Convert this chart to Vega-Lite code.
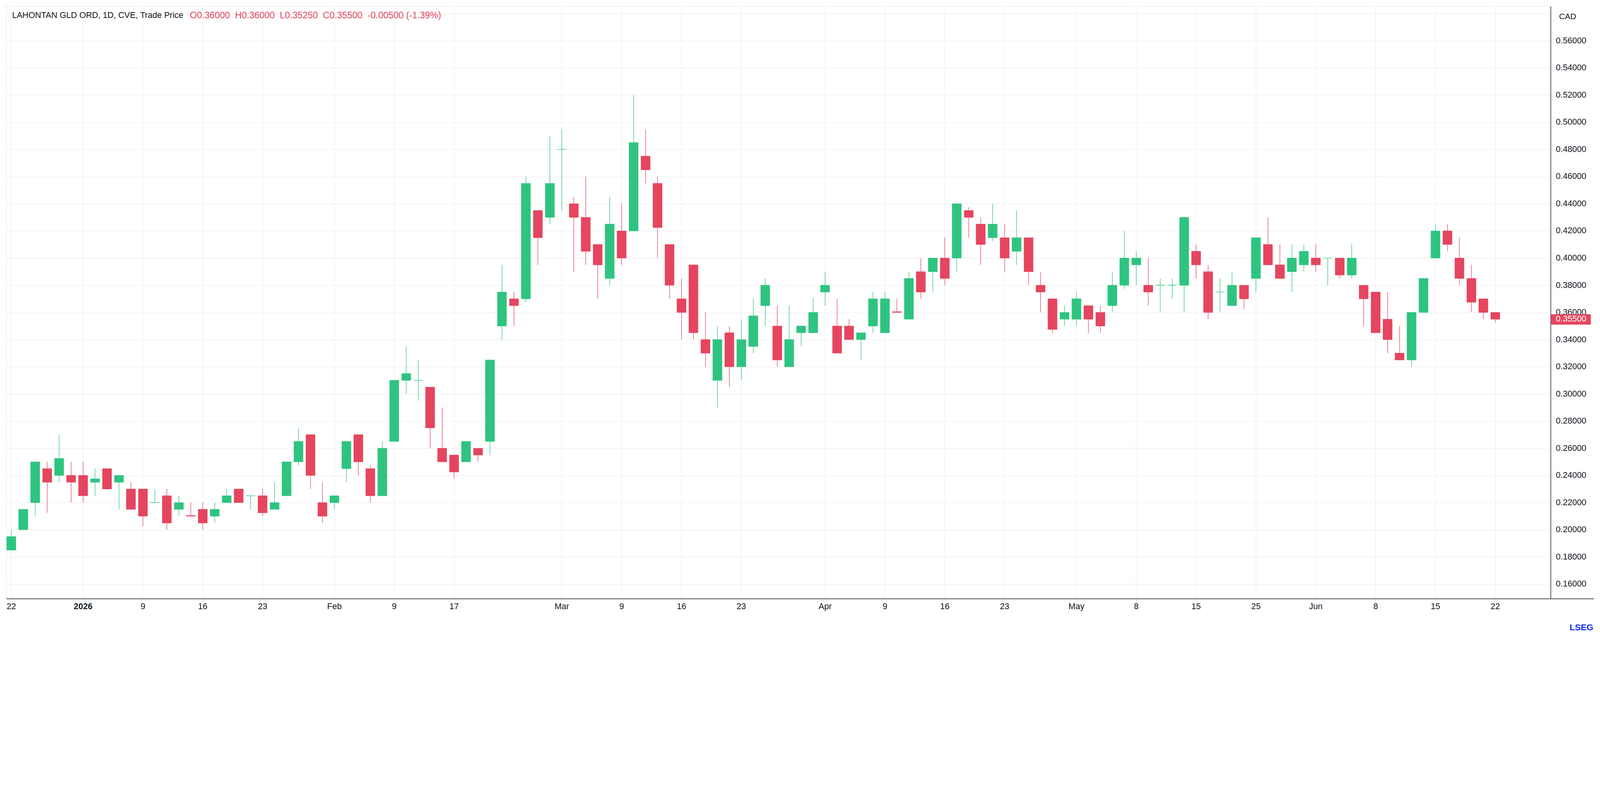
{
  "$schema": "https://vega.github.io/schema/vega-lite/v6.json",
  "width": 3953.6,
  "height": 1516,
  "autosize": {"type": "none"},
  "padding": {"left": 16, "top": 16, "right": 126.4, "bottom": 93.6},
  "background": "white",
  "data": {
    "values": [
      {"date": "2025-12-22", "open": 0.185, "high": 0.2, "low": 0.185, "close": 0.195},
      {"date": "2025-12-23", "open": 0.2, "high": 0.215, "low": 0.2, "close": 0.215},
      {"date": "2025-12-24", "open": 0.22, "high": 0.25, "low": 0.21, "close": 0.25},
      {"date": "2025-12-29", "open": 0.245, "high": 0.25, "low": 0.2125, "close": 0.235},
      {"date": "2025-12-30", "open": 0.24, "high": 0.27, "low": 0.235, "close": 0.2525},
      {"date": "2025-12-31", "open": 0.24, "high": 0.25, "low": 0.22, "close": 0.235},
      {"date": "2026-01-02", "open": 0.24, "high": 0.25, "low": 0.22, "close": 0.225},
      {"date": "2026-01-05", "open": 0.235, "high": 0.245, "low": 0.225, "close": 0.2375},
      {"date": "2026-01-06", "open": 0.245, "high": 0.245, "low": 0.23, "close": 0.23},
      {"date": "2026-01-07", "open": 0.235, "high": 0.24, "low": 0.215, "close": 0.24},
      {"date": "2026-01-08", "open": 0.23, "high": 0.235, "low": 0.215, "close": 0.215},
      {"date": "2026-01-09", "open": 0.23, "high": 0.23, "low": 0.2025, "close": 0.21},
      {"date": "2026-01-12", "open": 0.22, "high": 0.23, "low": 0.22, "close": 0.22},
      {"date": "2026-01-13", "open": 0.225, "high": 0.23, "low": 0.2, "close": 0.205},
      {"date": "2026-01-14", "open": 0.215, "high": 0.225, "low": 0.21, "close": 0.22},
      {"date": "2026-01-15", "open": 0.2105, "high": 0.22, "low": 0.21, "close": 0.21},
      {"date": "2026-01-16", "open": 0.215, "high": 0.22, "low": 0.2, "close": 0.205},
      {"date": "2026-01-19", "open": 0.21, "high": 0.22, "low": 0.205, "close": 0.215},
      {"date": "2026-01-20", "open": 0.22, "high": 0.23, "low": 0.22, "close": 0.225},
      {"date": "2026-01-21", "open": 0.23, "high": 0.23, "low": 0.22, "close": 0.22},
      {"date": "2026-01-22", "open": 0.225, "high": 0.225, "low": 0.215, "close": 0.225},
      {"date": "2026-01-23", "open": 0.225, "high": 0.23, "low": 0.21, "close": 0.2125},
      {"date": "2026-01-26", "open": 0.215, "high": 0.235, "low": 0.215, "close": 0.22},
      {"date": "2026-01-27", "open": 0.225, "high": 0.25, "low": 0.225, "close": 0.25},
      {"date": "2026-01-28", "open": 0.25, "high": 0.275, "low": 0.2475, "close": 0.265},
      {"date": "2026-01-29", "open": 0.27, "high": 0.27, "low": 0.23, "close": 0.24},
      {"date": "2026-01-30", "open": 0.22, "high": 0.235, "low": 0.205, "close": 0.21},
      {"date": "2026-02-02", "open": 0.22, "high": 0.225, "low": 0.215, "close": 0.225},
      {"date": "2026-02-03", "open": 0.245, "high": 0.265, "low": 0.235, "close": 0.265},
      {"date": "2026-02-04", "open": 0.27, "high": 0.27, "low": 0.24, "close": 0.25},
      {"date": "2026-02-05", "open": 0.245, "high": 0.2475, "low": 0.22, "close": 0.225},
      {"date": "2026-02-06", "open": 0.225, "high": 0.265, "low": 0.225, "close": 0.26},
      {"date": "2026-02-09", "open": 0.265, "high": 0.31, "low": 0.265, "close": 0.31},
      {"date": "2026-02-10", "open": 0.31, "high": 0.335, "low": 0.3, "close": 0.315},
      {"date": "2026-02-11", "open": 0.31, "high": 0.325, "low": 0.295, "close": 0.31},
      {"date": "2026-02-12", "open": 0.305, "high": 0.305, "low": 0.26, "close": 0.275},
      {"date": "2026-02-13", "open": 0.26, "high": 0.29, "low": 0.25, "close": 0.25},
      {"date": "2026-02-17", "open": 0.255, "high": 0.255, "low": 0.2375, "close": 0.2425},
      {"date": "2026-02-18", "open": 0.25, "high": 0.265, "low": 0.25, "close": 0.265},
      {"date": "2026-02-19", "open": 0.26, "high": 0.26, "low": 0.25, "close": 0.255},
      {"date": "2026-02-20", "open": 0.265, "high": 0.325, "low": 0.255, "close": 0.325},
      {"date": "2026-02-23", "open": 0.35, "high": 0.395, "low": 0.34, "close": 0.375},
      {"date": "2026-02-24", "open": 0.37, "high": 0.375, "low": 0.35, "close": 0.365},
      {"date": "2026-02-25", "open": 0.37, "high": 0.46, "low": 0.3675, "close": 0.455},
      {"date": "2026-02-26", "open": 0.435, "high": 0.435, "low": 0.395, "close": 0.415},
      {"date": "2026-02-27", "open": 0.43, "high": 0.49, "low": 0.425, "close": 0.455},
      {"date": "2026-03-02", "open": 0.48, "high": 0.495, "low": 0.435, "close": 0.48},
      {"date": "2026-03-03", "open": 0.44, "high": 0.445, "low": 0.39, "close": 0.43},
      {"date": "2026-03-04", "open": 0.43, "high": 0.46, "low": 0.395, "close": 0.405},
      {"date": "2026-03-05", "open": 0.41, "high": 0.41, "low": 0.37, "close": 0.395},
      {"date": "2026-03-06", "open": 0.385, "high": 0.445, "low": 0.38, "close": 0.425},
      {"date": "2026-03-09", "open": 0.42, "high": 0.44, "low": 0.395, "close": 0.4},
      {"date": "2026-03-10", "open": 0.42, "high": 0.52, "low": 0.42, "close": 0.485},
      {"date": "2026-03-11", "open": 0.475, "high": 0.495, "low": 0.455, "close": 0.465},
      {"date": "2026-03-12", "open": 0.455, "high": 0.46, "low": 0.4, "close": 0.4225},
      {"date": "2026-03-13", "open": 0.41, "high": 0.41, "low": 0.37, "close": 0.38},
      {"date": "2026-03-16", "open": 0.37, "high": 0.385, "low": 0.34, "close": 0.36},
      {"date": "2026-03-17", "open": 0.395, "high": 0.395, "low": 0.34, "close": 0.345},
      {"date": "2026-03-18", "open": 0.34, "high": 0.36, "low": 0.32, "close": 0.33},
      {"date": "2026-03-19", "open": 0.31, "high": 0.35, "low": 0.29, "close": 0.34},
      {"date": "2026-03-20", "open": 0.345, "high": 0.35, "low": 0.305, "close": 0.32},
      {"date": "2026-03-23", "open": 0.32, "high": 0.355, "low": 0.31, "close": 0.34},
      {"date": "2026-03-24", "open": 0.335, "high": 0.37, "low": 0.33, "close": 0.3575},
      {"date": "2026-03-25", "open": 0.365, "high": 0.385, "low": 0.35, "close": 0.38},
      {"date": "2026-03-26", "open": 0.35, "high": 0.365, "low": 0.32, "close": 0.325},
      {"date": "2026-03-27", "open": 0.32, "high": 0.365, "low": 0.32, "close": 0.34},
      {"date": "2026-03-30", "open": 0.345, "high": 0.35, "low": 0.335, "close": 0.35},
      {"date": "2026-03-31", "open": 0.345, "high": 0.37, "low": 0.345, "close": 0.36},
      {"date": "2026-04-01", "open": 0.375, "high": 0.39, "low": 0.365, "close": 0.38},
      {"date": "2026-04-02", "open": 0.35, "high": 0.37, "low": 0.33, "close": 0.33},
      {"date": "2026-04-06", "open": 0.35, "high": 0.355, "low": 0.34, "close": 0.34},
      {"date": "2026-04-07", "open": 0.34, "high": 0.345, "low": 0.325, "close": 0.345},
      {"date": "2026-04-08", "open": 0.35, "high": 0.375, "low": 0.345, "close": 0.37},
      {"date": "2026-04-09", "open": 0.345, "high": 0.375, "low": 0.345, "close": 0.37},
      {"date": "2026-04-10", "open": 0.3605, "high": 0.37, "low": 0.36, "close": 0.36},
      {"date": "2026-04-13", "open": 0.355, "high": 0.39, "low": 0.355, "close": 0.385},
      {"date": "2026-04-14", "open": 0.39, "high": 0.4, "low": 0.37, "close": 0.375},
      {"date": "2026-04-15", "open": 0.39, "high": 0.4, "low": 0.375, "close": 0.4},
      {"date": "2026-04-16", "open": 0.4, "high": 0.415, "low": 0.38, "close": 0.385},
      {"date": "2026-04-17", "open": 0.4, "high": 0.44, "low": 0.39, "close": 0.44},
      {"date": "2026-04-20", "open": 0.435, "high": 0.4375, "low": 0.415, "close": 0.43},
      {"date": "2026-04-21", "open": 0.425, "high": 0.43, "low": 0.395, "close": 0.41},
      {"date": "2026-04-22", "open": 0.415, "high": 0.44, "low": 0.4125, "close": 0.425},
      {"date": "2026-04-23", "open": 0.415, "high": 0.425, "low": 0.39, "close": 0.4},
      {"date": "2026-04-24", "open": 0.405, "high": 0.435, "low": 0.395, "close": 0.415},
      {"date": "2026-04-27", "open": 0.415, "high": 0.415, "low": 0.38, "close": 0.39},
      {"date": "2026-04-28", "open": 0.38, "high": 0.39, "low": 0.36, "close": 0.375},
      {"date": "2026-04-29", "open": 0.37, "high": 0.37, "low": 0.345, "close": 0.3475},
      {"date": "2026-04-30", "open": 0.355, "high": 0.365, "low": 0.35, "close": 0.36},
      {"date": "2026-05-01", "open": 0.355, "high": 0.375, "low": 0.35, "close": 0.37},
      {"date": "2026-05-04", "open": 0.365, "high": 0.365, "low": 0.345, "close": 0.355},
      {"date": "2026-05-05", "open": 0.36, "high": 0.365, "low": 0.345, "close": 0.35},
      {"date": "2026-05-06", "open": 0.365, "high": 0.39, "low": 0.36, "close": 0.38},
      {"date": "2026-05-07", "open": 0.38, "high": 0.42, "low": 0.3775, "close": 0.4},
      {"date": "2026-05-08", "open": 0.395, "high": 0.405, "low": 0.38, "close": 0.4},
      {"date": "2026-05-11", "open": 0.38, "high": 0.4, "low": 0.365, "close": 0.375},
      {"date": "2026-05-12", "open": 0.38, "high": 0.385, "low": 0.36, "close": 0.38},
      {"date": "2026-05-13", "open": 0.38, "high": 0.385, "low": 0.37, "close": 0.38},
      {"date": "2026-05-14", "open": 0.38, "high": 0.43, "low": 0.36, "close": 0.43},
      {"date": "2026-05-15", "open": 0.405, "high": 0.41, "low": 0.385, "close": 0.395},
      {"date": "2026-05-19", "open": 0.39, "high": 0.395, "low": 0.355, "close": 0.36},
      {"date": "2026-05-20", "open": 0.375, "high": 0.385, "low": 0.36, "close": 0.375},
      {"date": "2026-05-21", "open": 0.365, "high": 0.39, "low": 0.365, "close": 0.38},
      {"date": "2026-05-22", "open": 0.38, "high": 0.38, "low": 0.3625, "close": 0.37},
      {"date": "2026-05-25", "open": 0.385, "high": 0.415, "low": 0.375, "close": 0.415},
      {"date": "2026-05-26", "open": 0.41, "high": 0.43, "low": 0.395, "close": 0.395},
      {"date": "2026-05-27", "open": 0.395, "high": 0.41, "low": 0.385, "close": 0.385},
      {"date": "2026-05-28", "open": 0.39, "high": 0.41, "low": 0.375, "close": 0.4},
      {"date": "2026-05-29", "open": 0.395, "high": 0.41, "low": 0.39, "close": 0.405},
      {"date": "2026-06-01", "open": 0.4, "high": 0.41, "low": 0.39, "close": 0.395},
      {"date": "2026-06-02", "open": 0.4, "high": 0.4, "low": 0.38, "close": 0.4},
      {"date": "2026-06-03", "open": 0.4, "high": 0.4, "low": 0.385, "close": 0.3875},
      {"date": "2026-06-04", "open": 0.3875, "high": 0.41, "low": 0.385, "close": 0.4},
      {"date": "2026-06-05", "open": 0.38, "high": 0.38, "low": 0.35, "close": 0.37},
      {"date": "2026-06-08", "open": 0.375, "high": 0.375, "low": 0.345, "close": 0.345},
      {"date": "2026-06-09", "open": 0.355, "high": 0.375, "low": 0.33, "close": 0.34},
      {"date": "2026-06-10", "open": 0.33, "high": 0.35, "low": 0.325, "close": 0.325},
      {"date": "2026-06-11", "open": 0.325, "high": 0.36, "low": 0.32, "close": 0.36},
      {"date": "2026-06-12", "open": 0.36, "high": 0.385, "low": 0.36, "close": 0.385},
      {"date": "2026-06-15", "open": 0.4, "high": 0.425, "low": 0.4, "close": 0.42},
      {"date": "2026-06-16", "open": 0.42, "high": 0.425, "low": 0.405, "close": 0.41},
      {"date": "2026-06-17", "open": 0.4, "high": 0.415, "low": 0.38, "close": 0.385},
      {"date": "2026-06-18", "open": 0.385, "high": 0.395, "low": 0.36, "close": 0.3675},
      {"date": "2026-06-19", "open": 0.37, "high": 0.37, "low": 0.355, "close": 0.36},
      {"date": "2026-06-22", "open": 0.36, "high": 0.36, "low": 0.3525, "close": 0.355}
    ]
  },
  "encoding": {
    "x": {
      "field": "date",
      "type": "ordinal",
      "sort": "ascending",
      "scale": {
        "type": "band",
        "domain": {"unionWith": ["2026-06-23", "2026-06-24", "2026-06-25", "2026-06-26"]},
        "paddingInner": 0.24,
        "paddingOuter": 0.14,
        "align": 0.143
      },
      "axis": {
        "values": ["2025-12-22", "2026-01-02", "2026-01-09", "2026-01-16", "2026-01-23", "2026-02-02", "2026-02-09", "2026-02-17", "2026-03-02", "2026-03-09", "2026-03-16", "2026-03-23", "2026-04-01", "2026-04-09", "2026-04-16", "2026-04-23", "2026-05-01", "2026-05-08", "2026-05-15", "2026-05-25", "2026-06-01", "2026-06-08", "2026-06-15", "2026-06-22"],
        "labelExpr": "datum.value == '2026-01-02' ? '2026' : datum.value == '2026-02-02' ? 'Feb' : datum.value == '2026-03-02' ? 'Mar' : datum.value == '2026-04-01' ? 'Apr' : datum.value == '2026-05-01' ? 'May' : datum.value == '2026-06-01' ? 'Jun' : '' + toNumber(slice(datum.value, 8))",
        "labelFontWeight": {"condition": {"test": "datum.value == '2026-01-02'", "value": "bold"}, "value": "normal"},
        "labelAngle": 0,
        "labelPadding": 9.6,
        "labelFontSize": 21.6,
        "labelColor": "#131722",
        "labelOverlap": false,
        "ticks": false,
        "grid": true,
        "gridColor": "#f0f0f0",
        "gridWidth": 1.6,
        "domainColor": "#131722",
        "domainWidth": 1.4,
        "title": "LSEG",
        "titleX": 4032,
        "titleY": 73.6,
        "titleAlign": "center",
        "titleBaseline": "middle",
        "titleFontSize": 22.4,
        "titleFontWeight": "bold",
        "titleColor": "#1227f5"
      }
    },
    "color": {
      "condition": {"test": "datum.close >= datum.open", "value": "#2ec480"},
      "value": "#e5455f"
    }
  },
  "layer": [
    {
      "mark": {"type": "rule", "strokeWidth": 1.3},
      "encoding": {
        "y": {
          "field": "low",
          "type": "quantitative",
          "scale": {"domain": [0.1493, 0.5854], "nice": false, "zero": false},
          "axis": {
            "orient": "right",
            "values": [0.16, 0.18, 0.2, 0.22, 0.24, 0.26, 0.28, 0.3, 0.32, 0.34, 0.36, 0.38, 0.4, 0.42, 0.44, 0.46, 0.48, 0.5, 0.52, 0.54, 0.56, 0.58],
            "labelExpr": "datum.value > 0.57 ? '' : format(datum.value, '.5f')",
            "ticks": false,
            "labelPadding": 12.8,
            "labelAlign": "left",
            "labelBaseline": "middle",
            "labelFontSize": 21.6,
            "labelColor": "#131722",
            "labelOverlap": false,
            "grid": true,
            "gridColor": "#f0f0f0",
            "gridWidth": 1.6,
            "domainColor": "#131722",
            "domainWidth": 1.4,
            "title": "CAD",
            "titleAngle": 0,
            "titleX": 43,
            "titleY": 26.4,
            "titleAlign": "center",
            "titleBaseline": "middle",
            "titleFontSize": 20.8,
            "titleFontWeight": "normal",
            "titleColor": "#131722"
          }
        },
        "y2": {"field": "high"}
      }
    },
    {
      "mark": {"type": "bar", "strokeWidth": 1},
      "encoding": {
        "y": {
          "field": "open",
          "type": "quantitative",
          "scale": {"domain": [0.1493, 0.5854], "nice": false, "zero": false},
          "axis": {
            "orient": "right",
            "values": [0.14935],
            "labels": false,
            "domain": false,
            "grid": false,
            "ticks": true,
            "tickSize": 110.4,
            "tickWidth": 1.4,
            "tickColor": "#131722",
            "title": "LAHONTAN GLD ORD, 1D, CVE, Trade Price",
            "titleAngle": 0,
            "titleX": -3939.2,
            "titleY": 23.2,
            "titleAlign": "left",
            "titleBaseline": "middle",
            "titleFontSize": 21.6,
            "titleFontWeight": "normal",
            "titleColor": "#131722"
          }
        },
        "y2": {"field": "close"},
        "stroke": {
          "condition": {"test": "datum.close >= datum.open", "value": "#2ec480"},
          "value": "#e5455f"
        }
      }
    },
    {
      "transform": [{"filter": "datum.date == '2026-06-22'"}],
      "mark": {"type": "tick", "opacity": 0},
      "encoding": {
        "y": {
          "field": "close",
          "type": "quantitative",
          "scale": {"domain": [0.1493, 0.5854], "nice": false, "zero": false},
          "axis": {
            "orient": "right",
            "values": [0.355],
            "format": ".5f",
            "grid": false,
            "domain": false,
            "ticks": true,
            "tickSize": 102.4,
            "tickWidth": 26.4,
            "tickColor": "#e5455f",
            "labelPadding": -89.6,
            "labelAlign": "left",
            "labelBaseline": "middle",
            "labelFontSize": 21.6,
            "labelColor": "white",
            "title": "O0.36000\u00a0\u00a0H0.36000\u00a0\u00a0L0.35250\u00a0\u00a0C0.35500\u00a0\u00a0-0.00500 (-1.39%)",
            "titleAngle": 0,
            "titleX": -3484,
            "titleY": 23.2,
            "titleAlign": "left",
            "titleBaseline": "middle",
            "titleFontSize": 23.4,
            "titleFontWeight": "normal",
            "titleColor": "#e5455f",
            "zindex": 2
          }
        }
      }
    }
  ],
  "resolve": {"axis": {"y": "independent"}},
  "config": {
    "font": "Liberation Sans",
    "view": {"stroke": "#ececec", "strokeWidth": 1.6}
  }
}
